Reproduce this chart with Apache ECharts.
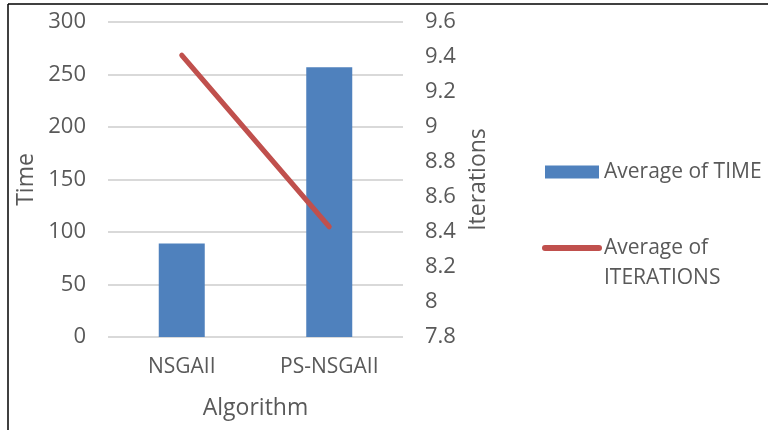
<!DOCTYPE html>
<html>
<head>
<meta charset="utf-8">
<script src="https://cdn.jsdelivr.net/npm/echarts@6/dist/echarts.min.js"></script>
<style>html,body{margin:0;padding:0;background:#fff}#c{width:768px;height:430px}</style>
</head>
<body>
<div id="c"></div>
<script>
const categories = ['NSGAII', 'PS-NSGAII'];
const timeValues = [89, 257];
const iterationValues = [9.41, 8.43];
const timeName = 'Average of TIME';
const iterName = 'Average of ITERATIONS';

const txt = '#595959';
const font = 'Open Sans';
const chart = echarts.init(document.getElementById('c'));
chart.setOption({
  animation: false,
  textStyle: { fontFamily: font },
  grid: { left: 108, right: 365, top: 22, bottom: 93 },
  graphic: [
    { type: 'line', shape: { x1: 8, y1: 4, x2: 768, y2: 4 }, style: { stroke: '#000', lineWidth: 1.5 } },
    { type: 'line', shape: { x1: 8, y1: 4, x2: 8, y2: 430 }, style: { stroke: '#000', lineWidth: 1.5 } }
  ],
  legend: {
    orient: 'vertical', left: 542, top: 157, itemGap: 16, padding: 0,
    itemWidth: 54, itemHeight: 13,
    textStyle: { color: txt, fontSize: 21, fontFamily: font, lineHeight: 30, padding: [0, 0, 0, 0] },
    formatter: n => n === iterName ? '\u00a0\nAverage of\nITERATIONS' : n,
    data: [
      { name: timeName, icon: 'rect' },
      { name: iterName, itemStyle: { opacity: 0 },
        lineStyle: { width: 6, cap: 'round', color: '#C0504D' } }
    ]
  },
  xAxis: {
    type: 'category', data: categories,
    name: 'Algorithm', nameLocation: 'middle', nameGap: 60,
    nameTextStyle: { color: txt, fontSize: 23, fontFamily: font },
    axisLine: { show: false }, axisTick: { show: false },
    axisLabel: { color: txt, fontSize: 21, margin: 20, fontFamily: font }
  },
  yAxis: [
    {
      type: 'value', min: 0, max: 300, interval: 50,
      name: 'Time', nameLocation: 'middle', nameGap: 70,
      nameTextStyle: { color: txt, fontSize: 23, fontFamily: font },
      axisLine: { show: false }, axisTick: { show: false },
      axisLabel: { color: txt, fontSize: 22, margin: 22, fontFamily: font },
      splitLine: { lineStyle: { color: '#D9D9D9', width: 2 } }
    },
    {
      type: 'value', min: 7.8, max: 9.6, interval: 0.2,
      name: 'Iterations', nameLocation: 'middle', nameGap: 64,
      nameTextStyle: { color: txt, fontSize: 23, fontFamily: font },
      axisLine: { show: false }, axisTick: { show: false },
      axisLabel: { color: txt, fontSize: 22, margin: 22, fontFamily: font,
        formatter: v => String(parseFloat(v.toFixed(1))) },
      splitLine: { show: false }
    }
  ],
  series: [
    { name: timeName, type: 'bar', data: timeValues, barWidth: 46,
      itemStyle: { color: '#4F81BD' } },
    { name: iterName, type: 'line', yAxisIndex: 1, data: iterationValues,
      symbol: 'none', lineStyle: { color: '#C0504D', width: 5, cap: 'round' },
      itemStyle: { color: '#C0504D' } }
  ]
});
</script>
</body>
</html>
